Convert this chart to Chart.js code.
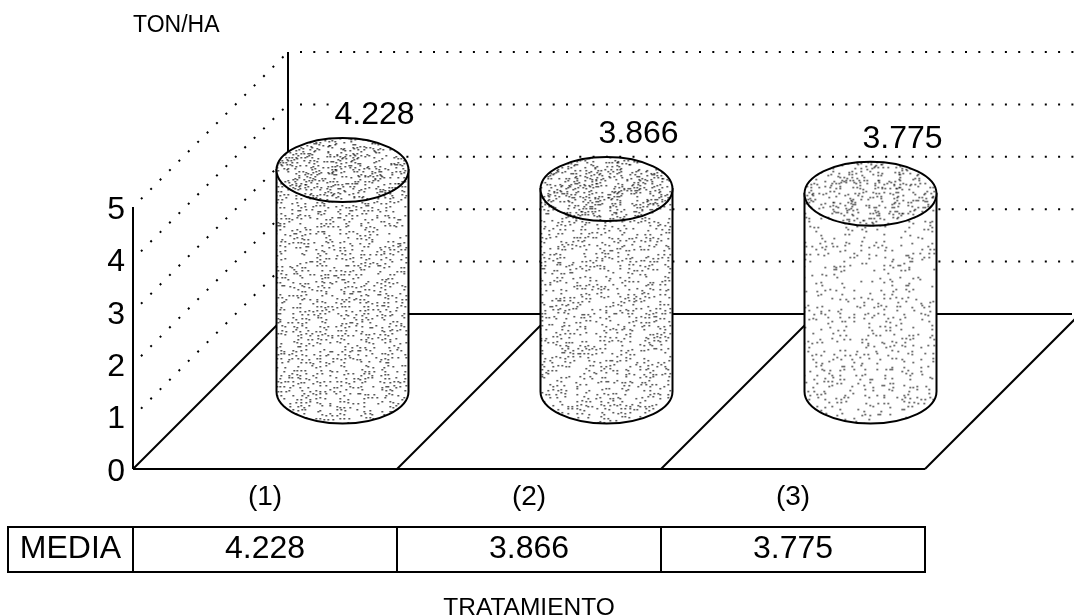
<!DOCTYPE html>
<html>
<head>
<meta charset="utf-8">
<title>Media por tratamiento</title>
<style>
	body {
		margin: 0;
		background: #fff;
	}
	canvas {
		display: block;
	}
</style>
<script type="text/javascript" src="https://cdn.jsdelivr.net/npm/chart.js@4/dist/chart.umd.min.js"></script>
</head>
<body>
<canvas id="rendimiento" width="1074" height="615"></canvas>
<script type="text/javascript">
	var categories = ['(1)', '(2)', '(3)'];
	var media = [4.228, 3.866, 3.775];
	var yTicks = [0, 1, 2, 3, 4, 5];
	var rowLabel = 'MEDIA';
	var yUnit = 'TON/HA';
	var xUnit = 'TRATAMIENTO';

	var FONT = '"Liberation Sans", Arial, sans-serif';
	var DEPTH = 155;       // fondo de la perspectiva, en px
	var RY = 32;           // radio vertical de las elipses
	var BIG = '32px ' + FONT;

	function hash(a, b) {
		var n = Math.sin(a * 12.9898 + b * 78.233) * 43758.5453;
		return n - Math.floor(n);
	}

	// trama punteada de los cilindros; grano mas o menos denso segun el cilindro
	function stipple(density, seed, paso) {
		var c = document.createElement('canvas');
		c.width = 132;
		c.height = 300;
		var g = c.getContext('2d');
		g.fillStyle = '#222';
		for (var y = 0; y < c.height; y += paso) {
			for (var x = 0; x < c.width; x += paso) {
				var blob = 0.5 + 0.25 * Math.sin(x * 0.29 + seed) + 0.25 * Math.sin(y * 0.23 + x * 0.11 + seed * 2);
				if (hash(x + seed, y) < density * (0.3 + blob)) {
					var jx = Math.floor(hash(x, y + seed) * 3) - 1;
					var jy = Math.floor(hash(y, x + seed) * 3) - 1;
					g.fillRect(x + jx, y + jy, 1.5, 1.5);
				}
			}
		}
		return c;
	}
	var cuerpos = [stipple(0.8, 1, 4), stipple(0.74, 2, 4), stipple(0.42, 3, 4)];
	var tapas = [stipple(0.72, 4, 3), stipple(0.78, 5, 3), stipple(0.55, 6, 3)];

	function seg(ctx, x1, y1, x2, y2) {
		ctx.beginPath();
		ctx.moveTo(x1, y1);
		ctx.lineTo(x2, y2);
		ctx.stroke();
	}

	function cuerpoPath(ctx, cx, top, base, rx) {
		ctx.beginPath();
		ctx.moveTo(cx - rx, top);
		ctx.lineTo(cx - rx, base);
		ctx.ellipse(cx, base, rx, RY, 0, Math.PI, 0, true);
		ctx.lineTo(cx + rx, top);
		ctx.closePath();
	}

	// paredes y piso en perspectiva, colgados de las escalas
	var frame3d = {
		id: 'frame3d',
		beforeDatasetsDraw: function(chart) {
			var ctx = chart.ctx, sx = chart.scales.x, sy = chart.scales.y;
			var left = sx.left, right = sx.right, y0 = sy.getPixelForValue(0);
			ctx.save();
			ctx.strokeStyle = '#000';
			ctx.lineWidth = 2;
			ctx.setLineDash([2, 11.3]);
			yTicks.slice(1).forEach(function(t) {
				var y = sy.getPixelForValue(t);
				seg(ctx, left + 8, y - 8, left + DEPTH, y - DEPTH);
				seg(ctx, left + DEPTH + 12, y - DEPTH, 1074, y - DEPTH);
			});
			ctx.setLineDash([]);
			seg(ctx, left, y0, left, sy.getPixelForValue(5));
			seg(ctx, left + DEPTH, y0 - DEPTH, left + DEPTH, sy.getPixelForValue(5) - DEPTH);
			seg(ctx, left, y0, right, y0);
			seg(ctx, left + DEPTH, y0 - DEPTH, 1072, y0 - DEPTH);
			// divisiones del piso entre categorias
			var w = (right - left) / categories.length;
			for (var i = 0; i <= categories.length; i++) {
				seg(ctx, left + w * i, y0, left + w * i + DEPTH, y0 - DEPTH);
			}
			ctx.restore();
		},
		afterDatasetsDraw: function(chart) {
			var ctx = chart.ctx;
			var bars = chart.getDatasetMeta(0).data;
			ctx.save();
			ctx.strokeStyle = '#000';
			ctx.lineWidth = 2;
			bars.forEach(function(bar, i) {
				var cx = bar.x + DEPTH / 2;
				var top = bar.y - DEPTH / 2;
				var base = bar.base - DEPTH / 2;
				var rx = bar.width / 2;

				// cuerpo
				cuerpoPath(ctx, cx, top, base, rx);
				ctx.fillStyle = '#fff';
				ctx.fill();
				ctx.save();
				ctx.clip();
				ctx.drawImage(cuerpos[i], cx - rx, top);
				ctx.restore();
				ctx.stroke();

				// tapa
				ctx.beginPath();
				ctx.ellipse(cx, top, rx, RY, 0, 0, Math.PI * 2);
				ctx.fillStyle = '#fff';
				ctx.fill();
				ctx.save();
				ctx.clip();
				ctx.drawImage(tapas[i], cx - rx, top - RY);
				ctx.restore();
				ctx.stroke();

				// valor sobre el cilindro
				var txt = media[i].toFixed(3);
				var lx = cx + 32, ly = top - RY - 23;
				ctx.font = BIG;
				ctx.textAlign = 'center';
				ctx.textBaseline = 'middle';
				var tw = ctx.measureText(txt).width;
				ctx.fillStyle = '#fff';
				ctx.fillRect(lx - tw / 2 - 3, ly - 14, tw + 6, 28);
				ctx.fillStyle = '#000';
				ctx.fillText(txt, lx, ly);
			});
			ctx.restore();

			drawTable(chart);
		}
	};

	// tabla de medias debajo del eje
	function drawTable(chart) {
		var ctx = chart.ctx, sx = chart.scales.x;
		var top = 527, bottom = 572, x0 = 8;
		var w = (sx.right - sx.left) / categories.length;
		ctx.save();
		ctx.strokeStyle = '#000';
		ctx.lineWidth = 2;
		ctx.strokeRect(x0, top, sx.right - x0, bottom - top);
		seg(ctx, sx.left, top, sx.left, bottom);
		for (var i = 1; i < categories.length; i++) {
			seg(ctx, sx.left + w * i, top, sx.left + w * i, bottom);
		}
		ctx.fillStyle = '#000';
		ctx.textAlign = 'center';
		ctx.textBaseline = 'middle';
		ctx.font = BIG;
		ctx.fillText(rowLabel, (x0 + sx.left) / 2, (top + bottom) / 2);
		media.forEach(function(v, i) {
			ctx.fillText(v.toFixed(3), sx.getPixelForValue(i), (top + bottom) / 2);
		});
		ctx.restore();
	}

	var myChart = new Chart(document.getElementById('rendimiento'), {
		type: 'bar',
		data: {
			labels: categories,
			datasets: [{
				label: rowLabel,
				data: media,
				backgroundColor: 'rgba(0,0,0,0)',
				borderWidth: 0,
				barPercentage: 1,
				categoryPercentage: 0.5
			}]
		},
		plugins: [frame3d],
		options: {
			responsive: false,
			animation: false,
			layout: { padding: { right: 149 } },
			scales: {
				x: {
					grid: { display: false },
					border: { display: false },
					ticks: { color: '#000', font: { family: FONT, size: 28 }, padding: 3, maxRotation: 0 },
					title: {
						display: true,
						text: xUnit,
						color: '#000',
						font: { family: FONT, size: 24.5, lineHeight: 0.55 },
						padding: 0
					},
					afterFit: function(s) { s.height = 146; }
				},
				y: {
					min: 0,
					max: 5,
					grid: { display: false },
					border: { display: false },
					ticks: { color: '#000', font: { family: FONT, size: 32 }, stepSize: 1, padding: 0, labelOffset: 3 },
					afterFit: function(s) { s.width = 133; }
				}
			},
			plugins: {
				legend: { display: false },
				tooltip: { enabled: false },
				title: {
					display: true,
					text: yUnit,
					align: 'start',
					fullSize: false,
					color: '#000',
					font: { family: FONT, size: 23, weight: 'normal', lineHeight: 1.2 },
					padding: { top: 12, bottom: 167.4 }
				}
			}
		}
	});
</script>
</body>
</html>
